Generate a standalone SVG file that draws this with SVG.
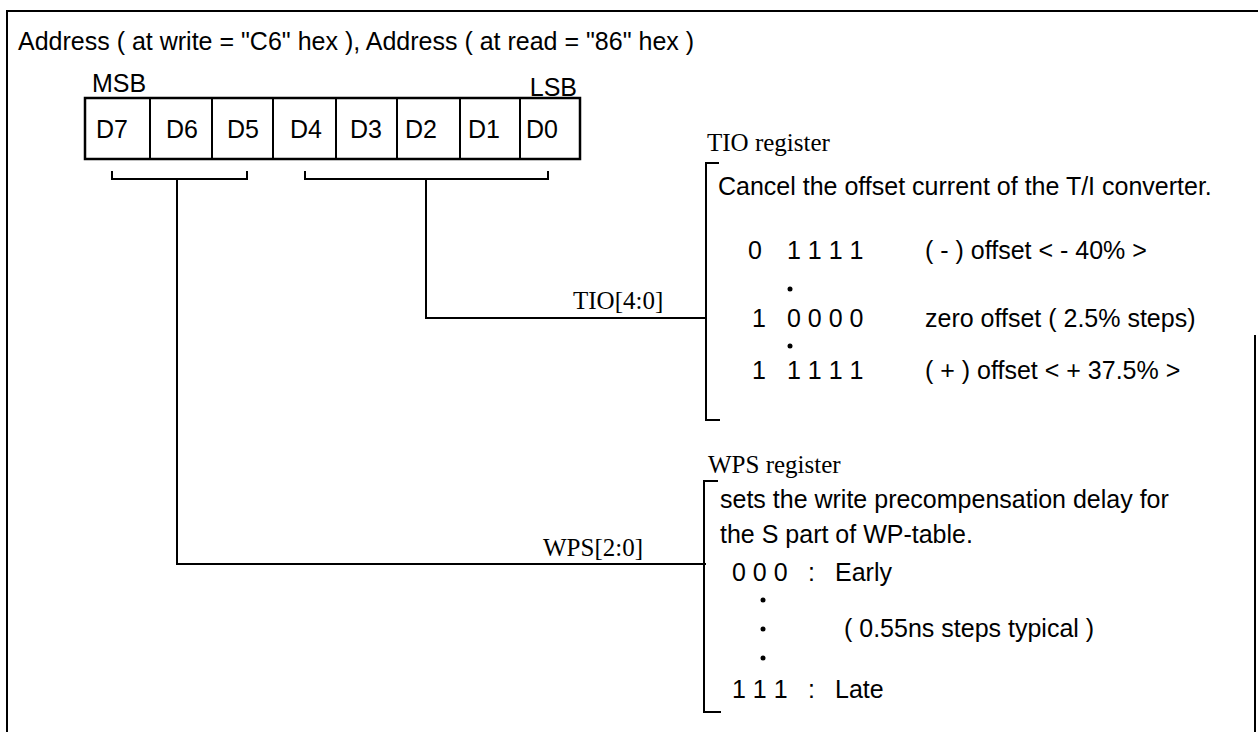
<svg xmlns="http://www.w3.org/2000/svg" width="1258" height="732" viewBox="0 0 1258 732">
<style>
.s{font-family:"Liberation Sans",Arial,sans-serif;font-size:25px;fill:#000}
.t{font-family:"Liberation Serif","Times New Roman",serif;font-size:25px;fill:#000}
.ln{fill:none;stroke:#000;stroke-width:2}
.bx{fill:#fff;stroke:#000;stroke-width:2.5}
</style>
<rect width="1258" height="732" fill="#fff"/>
<g id="frame">
<path class="ln" d="M7,732 V11 H1258"/>
<path class="ln" d="M1255,335 V732"/>
</g>
<g id="title">
<text class="s" x="18" y="50" font-size="27">Address ( at write = "C6" hex ), Address ( at read = "86" hex )</text>
</g>
<g id="register">
<text class="s" x="92" y="92">MSB</text>
<text class="s" x="577" y="96" text-anchor="end">LSB</text>
<rect class="bx" x="85" y="98" width="495" height="61"/>
<path class="ln" d="M150,98V159M212,98V159M273,98V159M336,98V159M397,98V159M460,98V159M520,98V159"/>
<g class="s" text-anchor="middle">
<text x="112" y="138">D7</text>
<text x="182" y="138">D6</text>
<text x="243" y="138">D5</text>
<text x="306" y="138">D4</text>
<text x="366" y="138">D3</text>
<text x="421" y="138">D2</text>
<text x="484" y="138">D1</text>
<text x="542" y="138">D0</text>
</g>
</g>
<g id="connectors">
<path class="ln" d="M112,171V179H247V171"/>
<path class="ln" d="M305,171V179H548V171"/>
<path class="ln" d="M177,179V564H706"/>
<path class="ln" d="M426,179V318H706"/>
<text class="t" x="573" y="309">TIO[4:0]</text>
<text class="t" x="543" y="556">WPS[2:0]</text>
</g>
<g id="tio">
<text class="t" x="707" y="151">TIO register</text>
<path class="ln" d="M719,163H706V420H720"/>
<text class="s" x="718" y="195">Cancel the offset current of the T/I converter.</text>
<text class="s" x="748" y="259">0</text><text class="s" x="787" y="259">1 1 1 1</text><text class="s" x="925" y="259">( - )  offset &lt; - 40% &gt;</text>
<circle cx="790" cy="289" r="2.5"/>
<text class="s" x="752" y="327">1</text><text class="s" x="787" y="327">0 0 0 0</text><text class="s" x="925" y="327">zero offset  ( 2.5% steps)</text>
<circle cx="790" cy="346" r="2.5"/>
<text class="s" x="752" y="379">1</text><text class="s" x="787" y="379">1 1 1 1</text><text class="s" x="925" y="379">( + )  offset  &lt; + 37.5% &gt;</text>
</g>
<g id="wps">
<text class="t" x="708" y="473">WPS register</text>
<path class="ln" d="M718,481H704V712H721"/>
<text class="s" x="720" y="508">sets the write precompensation delay for</text>
<text class="s" x="720" y="543">the S part of WP-table.</text>
<text class="s" x="732" y="581">0 0 0</text><text class="s" x="808" y="581">:</text><text class="s" x="835" y="581">Early</text>
<circle cx="763" cy="600" r="2.5"/>
<text class="s" x="844" y="637">( 0.55ns steps  typical )</text>
<circle cx="763" cy="629" r="2.5"/>
<circle cx="763" cy="658" r="2.5"/>
<text class="s" x="732" y="698">1 1 1</text><text class="s" x="808" y="698">:</text><text class="s" x="835" y="698">Late</text>
</g>
</svg>
